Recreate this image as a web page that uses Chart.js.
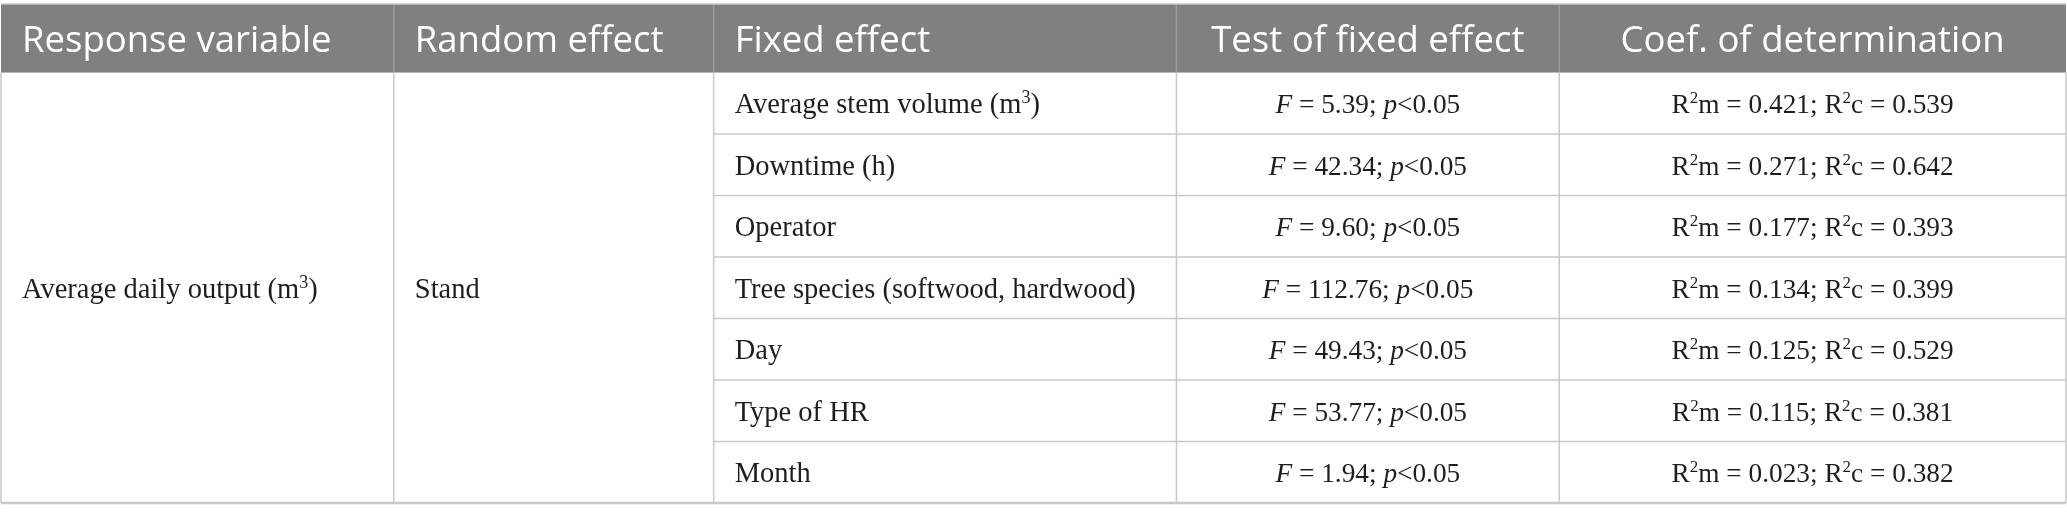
<!DOCTYPE html>
<html>
<head>
<meta charset="utf-8">
<script src="https://cdn.jsdelivr.net/npm/chart.js@4.4.1/dist/chart.umd.min.js"></script>
<style>
  html, body { margin: 0; padding: 0; background: #fff; }
  #wrap { width: 2067px; height: 521px; }
</style>
</head>
<body>
<div id="wrap"><canvas id="tabela"></canvas></div>
<script>
// table content
var headers = ['Response variable', 'Random effect', 'Fixed effect', 'Test of fixed effect', 'Coef. of determination']
var responseVariable = 'Average daily output (m^3)'
var randomEffect = 'Stand'
var fixedEffects = ['Average stem volume (m^3)', 'Downtime (h)', 'Operator', 'Tree species (softwood, hardwood)', 'Day', 'Type of HR', 'Month']
var fValues = [5.39, 42.34, 9.60, 112.76, 49.43, 53.77, 1.94]
var pLimit = '0.05'
var r2m = [0.421, 0.271, 0.177, 0.134, 0.125, 0.115, 0.023]
var r2c = [0.539, 0.642, 0.393, 0.399, 0.529, 0.381, 0.382]

// layout
var colWidths = [393, 320, 463, 383, 507]
var headerRows = 1.115
var headFont = '36.5px "Open Sans"'
var textSize = 28.5
var numSize = 27.3
var bodyFamily = '"Liberation Serif", "DejaVu Serif", serif'
var lineColor = '#c9c9c9'

var colEdges = [0]
colWidths.forEach(function (w) { colEdges.push(colEdges[colEdges.length - 1] + w) })

// *x* = italic, ^x = superscript char
function parseRich(s) {
  var out = [], italic = false, buf = ''
  for (var i = 0; i < s.length; i++) {
    var c = s[i]
    if (c == '*') {
      if (buf) out.push({ t: buf, it: italic, sup: false })
      buf = ''
      italic = !italic
    } else if (c == '^') {
      if (buf) out.push({ t: buf, it: italic, sup: false })
      buf = ''
      out.push({ t: s[i + 1], it: italic, sup: true })
      i++
    } else buf += c
  }
  if (buf) out.push({ t: buf, it: italic, sup: false })
  return out
}

function segFont(seg, size) {
  var s = seg.sup ? Math.round(size * 0.62) : size
  return (seg.it ? 'italic ' : '') + s + 'px ' + bodyFamily
}

function drawRich(c, s, x, y, align, size) {
  var segs = parseRich(s), total = 0
  segs.forEach(function (g) { c.font = segFont(g, size); g.w = c.measureText(g.t).width; total += g.w })
  var cx = align == 'center' ? x - total / 2 : x
  c.textAlign = 'left'
  c.textBaseline = 'alphabetic'
  segs.forEach(function (g) {
    c.font = segFont(g, size)
    c.fillText(g.t, cx, g.sup ? y - size * 0.36 : y)
    cx += g.w
  })
}

var tablePlugin = {
  id: 'tablePlugin',
  afterDraw: function (chart) {
    var c = chart.ctx, xs = chart.scales.x, ys = chart.scales.y
    var X = function (v) { return xs.getPixelForValue(v) }
    var Y = function (v) { return ys.getPixelForValue(v) }
    var top = Y(-headerRows), head = Y(0), bottom = Y(fixedEffects.length)
    var left = X(0), right = X(colEdges[colEdges.length - 1])
    var pad = 21
    var baseOff = 10

    c.save()
    // header
    c.fillStyle = '#808080'
    c.fillRect(left, top, right - left, head - top)
    c.font = headFont
    c.fillStyle = '#ffffff'
    c.textBaseline = 'alphabetic'
    headers.forEach(function (h, i) {
      var yb = (top + head) / 2 + 14
      if (i < 3) {
        c.textAlign = 'left'
        c.fillText(h, X(colEdges[i]) + pad, yb)
      } else {
        c.textAlign = 'center'
        c.fillText(h, (X(colEdges[i]) + X(colEdges[i + 1])) / 2, yb)
      }
    })

    // grid lines
    c.lineWidth = 1.5
    c.strokeStyle = '#9a9a9a'
    for (var i = 1; i < colEdges.length - 1; i++) {
      c.beginPath(); c.moveTo(X(colEdges[i]), top); c.lineTo(X(colEdges[i]), head); c.stroke()
    }
    c.strokeStyle = lineColor
    c.beginPath(); c.moveTo(left, top); c.lineTo(right, top); c.stroke()
    for (var i = 0; i < colEdges.length; i++) {
      c.beginPath(); c.moveTo(X(colEdges[i]), head); c.lineTo(X(colEdges[i]), bottom); c.stroke()
    }
    for (var r = 1; r < fixedEffects.length; r++) {
      c.beginPath(); c.moveTo(X(colEdges[2]), Y(r)); c.lineTo(right, Y(r)); c.stroke()
    }
    c.lineWidth = 2.5
    c.beginPath(); c.moveTo(left, bottom); c.lineTo(right, bottom); c.stroke()

    // body
    c.fillStyle = '#1e1e1e'
    var mergedMid = (head + bottom) / 2 + baseOff
    drawRich(c, responseVariable, X(colEdges[0]) + pad, mergedMid, 'left', textSize)
    drawRich(c, randomEffect, X(colEdges[1]) + pad, mergedMid, 'left', textSize)
    fixedEffects.forEach(function (fe, r) {
      var yb = Y(r + 0.5) + baseOff
      drawRich(c, fe, X(colEdges[2]) + pad, yb, 'left', textSize)
      drawRich(c, '*F* = ' + fValues[r].toFixed(2) + '; *p*<' + pLimit,
        (X(colEdges[3]) + X(colEdges[4])) / 2, yb, 'center', numSize)
      drawRich(c, 'R^2m = ' + r2m[r].toFixed(3) + '; R^2c = ' + r2c[r].toFixed(3),
        (X(colEdges[4]) + X(colEdges[5])) / 2, yb, 'center', numSize)
    })
    c.restore()
  }
}

new Chart(document.getElementById('tabela'), {
  type: 'scatter',
  data: {
    datasets: [{
      data: fixedEffects.map(function (f, i) { return { x: colEdges[2], y: i + 0.5 } }),
      pointRadius: 0
    }]
  },
  options: {
    responsive: true,
    maintainAspectRatio: false,
    animation: false,
    devicePixelRatio: 1,
    events: [],
    layout: { padding: { left: 1, right: 1, top: 4, bottom: 18 } },
    plugins: { legend: { display: false }, tooltip: { enabled: false } },
    scales: {
      x: { type: 'linear', display: false, min: 0, max: colEdges[colEdges.length - 1] },
      y: { type: 'linear', display: false, reverse: true, min: -headerRows, max: fixedEffects.length }
    }
  },
  plugins: [tablePlugin]
})
</script>
</body>
</html>
